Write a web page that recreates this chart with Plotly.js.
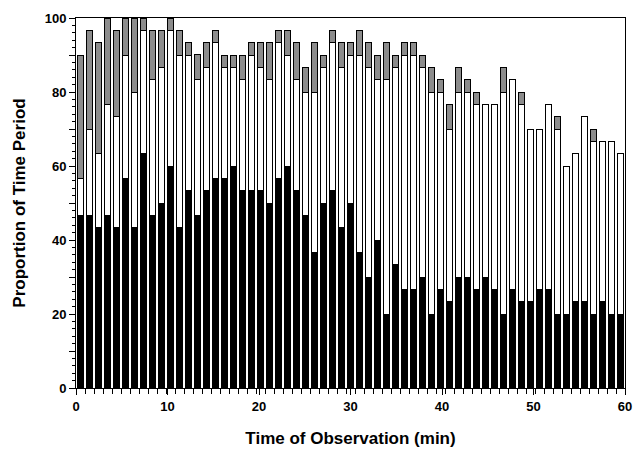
<!DOCTYPE html>
<html>
<head>
<meta charset="utf-8">
<script src="https://cdn.plot.ly/plotly-3.0.1.min.js"></script>
<style>
  html, body { margin: 0; padding: 0; background: #fff; }
  #chart { width: 634px; height: 460px; }
</style>
</head>
<body>
<div id="chart"></div>
<script>
// Proportion of each time period (%), 61 consecutive observation periods spanning 0-60 min
const blackPart = [46.7, 46.7, 43.3, 46.7, 43.3, 56.7, 43.3, 63.3, 46.7, 50,
                   60, 43.3, 53.3, 46.7, 53.3, 56.7, 56.7, 60, 53.3, 53.3,
                   53.3, 50, 56.7, 60, 53.3, 46.7, 36.7, 50, 53.3, 43.3,
                   50, 36.7, 30, 40, 20, 33.3, 26.7, 26.7, 30, 20,
                   26.7, 23.3, 30, 30, 26.7, 30, 26.7, 20, 26.7, 23.3,
                   23.3, 26.7, 26.7, 20, 20, 23.3, 23.3, 20, 23.3, 20,
                   20];
const whitePart = [10, 23.3, 20, 30, 30, 33.3, 36.7, 33.3, 36.7, 36.7,
                   36.7, 46.7, 36.7, 36.7, 33.3, 36.7, 30, 26.7, 30, 36.7,
                   33.3, 33.3, 36.7, 30, 30, 33.3, 43.3, 36.7, 40, 43.3,
                   40, 53.3, 56.7, 43.3, 63.3, 53.3, 63.3, 63.3, 56.7, 60,
                   53.3, 46.7, 50, 50, 50, 46.7, 50, 60, 56.7, 53.3,
                   46.7, 43.3, 50, 50, 40, 40, 50, 46.7, 43.3, 46.7,
                   43.3];
const grayPart  = [33.3, 26.7, 30, 23.3, 23.3, 10, 20, 3.3, 13.3, 10,
                   3.3, 6.7, 3.3, 6.7, 6.7, 3.3, 3.3, 3.3, 6.7, 3.3,
                   6.7, 10, 3.3, 6.7, 10, 6.7, 13.3, 3.3, 3.3, 6.7,
                   3.3, 6.7, 6.7, 6.7, 10, 3.3, 3.3, 3.3, 3.3, 6.7,
                   3.3, 6.7, 6.7, 3.3, 3.3, 0, 0, 6.7, 0, 3.3,
                   0, 0, 0, 3.3, 0, 0, 0, 3.3, 0, 0,
                   0];
const sessionMinutes = 60;
const yTickVals = [0, 10, 20, 30, 40, 50, 60, 70, 80, 90, 100];
const yTickText = ['0', '', '20', '', '40', '', '60', '', '80', '', '100'];
const xTickVals = [0, 10, 20, 30, 40, 50, 60];

const nObs = blackPart.length;
const slot = sessionMinutes / nObs;
const timeMid = blackPart.map((_, i) => (i + 0.5) * slot);
const slotEdges = Array.from({length: nObs + 1}, (_, i) => i * slot);

const lineStyle = {color: '#000', width: 1};
const traces = [
  {type: 'bar', x: timeMid, y: blackPart, marker: {color: '#000', line: lineStyle}, width: slot * 0.66, hoverinfo: 'skip'},
  {type: 'bar', x: timeMid, y: whitePart, marker: {color: '#fff', line: lineStyle}, width: slot * 0.66, hoverinfo: 'skip'},
  {type: 'bar', x: timeMid, y: grayPart,  marker: {color: '#8c8c8c', line: lineStyle}, width: slot * 0.66, hoverinfo: 'skip'}
];

const font = {family: '"Liberation Sans", Arial, sans-serif', color: '#000'};
const layout = {
  width: 634, height: 460,
  margin: {l: 76, r: 9, t: 18, b: 72},
  paper_bgcolor: '#fff', plot_bgcolor: '#fff',
  barmode: 'stack',
  showlegend: false,
  font: font,
  xaxis: {
    range: [0, sessionMinutes],
    tickmode: 'array', tickvals: xTickVals,
    ticks: 'outside', ticklen: 6, tickwidth: 1, tickcolor: '#000',
    showgrid: false, zeroline: false,
    showline: true, linecolor: '#000', linewidth: 1, mirror: true,
    tickfont: {family: font.family, size: 13, weight: 'bold', color: '#000'},
    minor: {tickmode: 'array', tickvals: slotEdges, ticks: 'outside', ticklen: 5, tickwidth: 1, tickcolor: '#000', showgrid: false},
    title: {text: 'Time of Observation (min)', font: {family: font.family, size: 17, weight: 'bold', color: '#000'}, standoff: 19}
  },
  yaxis: {
    range: [0, 100],
    tickmode: 'array', tickvals: yTickVals, ticktext: yTickText,
    ticks: 'outside', ticklen: 6, tickwidth: 1, tickcolor: '#000',
    showgrid: false, zeroline: false,
    showline: true, linecolor: '#000', linewidth: 1, mirror: true,
    tickfont: {family: font.family, size: 13, weight: 'bold', color: '#000'},
    minor: {dtick: 2, ticks: 'outside', ticklen: 3, tickwidth: 1, tickcolor: '#000', showgrid: false},
    title: {text: 'Proportion of Time Period', font: {family: font.family, size: 17, weight: 'bold', color: '#000'}, standoff: 14}
  }
};

Plotly.newPlot('chart', traces, layout, {displayModeBar: false, staticPlot: true});
</script>
</body>
</html>
